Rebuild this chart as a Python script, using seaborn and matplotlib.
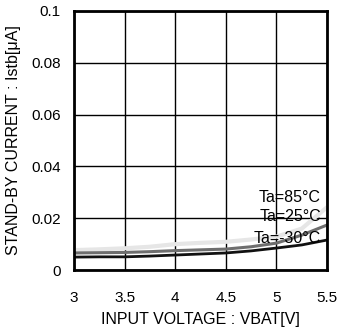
import matplotlib
matplotlib.use("Agg")
import matplotlib.pyplot as plt
import seaborn as sns
import pandas as pd

vbat = [3.0, 3.25, 3.5, 3.75, 4.0, 4.25, 4.5, 4.75, 5.0, 5.25, 5.5]
i_85 = [0.0077, 0.0080, 0.0084, 0.0090, 0.0100, 0.0105, 0.0109, 0.0118, 0.0129, 0.0160, 0.0243]
i_25 = [0.0066, 0.0067, 0.0068, 0.0071, 0.0075, 0.0078, 0.0081, 0.0090, 0.0104, 0.0135, 0.0174]
i_m30 = [0.0050, 0.0051, 0.0051, 0.0054, 0.0058, 0.0062, 0.0066, 0.0074, 0.0085, 0.0097, 0.0116]
series = ["Ta=85°C", "Ta=25°C", "Ta=-30°C"]
label_y = [0.0280, 0.0205, 0.0123]
xticks = [3, 3.5, 4, 4.5, 5, 5.5]
yticks = [0, 0.02, 0.04, 0.06, 0.08, 0.1]
ytick_labels = ["0", "0.02", "0.04", "0.06", "0.08", "0.1"]

df = pd.DataFrame({
    "vbat": vbat * 3,
    "current": i_85 + i_25 + i_m30,
    "temp": [series[0]] * len(vbat) + [series[1]] * len(vbat) + [series[2]] * len(vbat),
})

sns.set_style("white")
plt.rcParams["font.family"] = ["Liberation Sans", "DejaVu Sans"]
plt.rcParams["text.color"] = "black"
plt.rcParams["axes.labelcolor"] = "black"

fig = plt.figure(figsize=(3.39, 3.33), dpi=100)
ax = fig.add_axes([0.218, 0.189, 0.747, 0.778])

palette = {series[0]: "#e6e6e6", series[1]: "#6e6e6e", series[2]: "#111111"}
sns.lineplot(data=df, x="vbat", y="current", hue="temp", palette=palette,
             ax=ax, legend=False, linewidth=2.0)
for line, lw in zip(ax.lines, [3.0, 2.2, 2.0]):
    line.set_linewidth(lw)

ax.set_xlim(3, 5.5)
ax.set_ylim(0, 0.1)
ax.set_xticks(xticks)
ax.set_xticklabels([f"{t:g}" for t in xticks])
ax.set_yticks(yticks)
ax.set_yticklabels(ytick_labels)
ax.grid(True, color="black", linewidth=1.0)
ax.set_axisbelow(True)
for sp in ax.spines.values():
    sp.set_visible(True)
    sp.set_color("black")
    sp.set_linewidth(2.0)
ax.tick_params(axis="both", labelsize=11, colors="black", labelcolor="black", length=0)
ax.tick_params(axis="x", pad=15)
ax.tick_params(axis="y", pad=9.5)
ax.set_xlabel("INPUT VOLTAGE : VBAT[V]", fontsize=11.5, labelpad=5, color="black")
ax.set_ylabel("STAND-BY CURRENT : Istb[μA]", fontsize=11.5, labelpad=7, color="black")

for name, yv in zip(series, label_y):
    ax.text(5.44, yv, name, ha="right", va="center", fontsize=11.5, color="black")

fig.savefig("out.png", dpi=100)
